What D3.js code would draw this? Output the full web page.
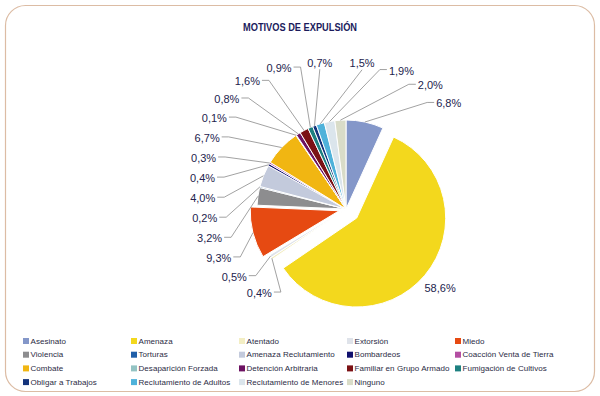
<!doctype html>
<html lang="es">
<head>
<meta charset="utf-8">
<script src="https://cdn.jsdelivr.net/npm/d3@7"></script>
<style>
body{margin:0;padding:0;background:#fff;}
svg{display:block;font-family:"Liberation Sans",Arial,sans-serif;}
</style>
</head>
<body>
<svg id="chartSvg"></svg>
<script>
// data
var categories = ["Asesinato","Amenaza","Atentado","Extorsión","Miedo","Violencia","Torturas",
	"Amenaza Reclutamiento","Bombardeos","Coacción Venta de Tierra","Combate","Desaparición Forzada",
	"Detención Arbitraria","Familiar en Grupo Armado","Fumigación de Cultivos","Obligar a Trabajos",
	"Reclutamiento de Adultos","Reclutamiento de Menores","Ninguno"];
var values = [6.8,58.6,0.4,0.5,9.3,3.2,0.2,4.0,0.4,0.3,6.7,0.1,0.8,1.6,0.9,0.7,1.5,1.9,2.0];
var colors = ["#8497c9","#f3d81d","#f3eec4","#dfe3ea","#e64a12","#8d8d8f","#1f5fa8",
	"#c3cadc","#10106e","#b34ea2","#f1b612","#93c3c3","#6c1262","#7b1114","#1d8080",
	"#14347c","#4fb2da","#dbe5ec","#d9dcc8"];
var title = "MOTIVOS DE EXPULSIÓN";

var width = 600, height = 396;
var cx = 346, cy = 209, radius = 89;
// label ring (rounded shape, a bit above and left of the pie centre)
var ringCx = 336, ringCy = 184, rx = 121, ry = 116, ringPow = 2.6;
var labelTurn = -0.1; // start labels slightly counter-clockwise of their slice

var svg = d3.select("#chartSvg").attr("width", width).attr("height", height);

// frame
svg.append("rect")
	.attr("x", 5.5).attr("y", 5.5)
	.attr("width", 589).attr("height", 386)
	.attr("rx", 20).attr("ry", 20)
	.attr("fill", "#fff")
	.attr("stroke", "#dcbca4")
	.attr("stroke-width", 1.2);

svg.append("text")
	.attr("x", 300).attr("y", 28)
	.attr("text-anchor", "middle")
	.attr("dominant-baseline", "middle")
	.attr("font-size", 10)
	.attr("font-weight", "bold")
	.attr("fill", "#1b1b5c")
	.attr("textLength", 114)
	.attr("lengthAdjust", "spacingAndGlyphs")
	.text(title);

var data = categories.map(function(c, i){ return {name:c, value:values[i], color:colors[i]}; });
var arcs = d3.pie().sort(null).value(function(d){ return d.value; })(data);
var arc = d3.arc().innerRadius(0).outerRadius(radius);

function fmt(v){ return v.toFixed(1).replace(".", ",") + "%"; }
function offset(d){
	var off = 0;
	if (d.data.name == "Amenaza") off = 14;
	if (d.data.name == "Miedo") off = 7;
	var m = (d.startAngle + d.endAngle) / 2;
	return [off * Math.sin(m), -off * Math.cos(m)];
}

// slices
svg.append("g").selectAll("path")
	.data(arcs)
	.enter().append("path")
	.attr("transform", function(d){ var o = offset(d); return "translate(" + (cx + o[0]) + "," + (cy + o[1]) + ")"; })
	.attr("d", arc)
	.attr("fill", function(d){ return d.data.color; })
	.attr("stroke", "#fff")
	.attr("stroke-width", 1);

// labels
var gLines = svg.append("g");
var gLab = svg.append("g");
var labs = [];
arcs.forEach(function(d){
	var m = (d.startAngle + d.endAngle) / 2;
	if (d.data.name == "Amenaza") {
		var o = offset(d);
		gLab.append("text")
			.attr("x", cx + o[0] + (radius + 20) * Math.sin(m))
			.attr("y", cy + o[1] - (radius + 20) * Math.cos(m))
			.attr("text-anchor", "middle")
			.attr("dominant-baseline", "central")
			.attr("font-size", 11)
			.attr("fill", "#23234d")
			.text(fmt(d.data.value));
		return;
	}
	var t = m > Math.PI ? m - 2 * Math.PI : m;
	labs.push({d:d, mid:m, t:t + labelTurn});
});
labs.sort(function(a, b){ return a.t - b.t; });
labs.forEach(function(l){
	l.node = gLab.append("text")
		.attr("text-anchor", "middle")
		.attr("dominant-baseline", "central")
		.attr("font-size", 11)
		.attr("fill", "#23234d")
		.text(fmt(l.d.data.value));
	l.w = l.node.node().getComputedTextLength();
	l.h = 11;
});

function place(l){
	var s = Math.sin(l.t), c = Math.cos(l.t);
	var k = 1 / Math.pow(Math.pow(Math.abs(s / rx), ringPow) + Math.pow(Math.abs(c / ry), ringPow), 1 / ringPow);
	var px = ringCx + k * s, py = ringCy - k * c;
	l.left = px + l.w / 2 * s - l.w / 2;
	l.top = py - l.h / 2 * c - l.h / 2;
}
function clash(a, b){
	var dx = (a.left + a.w / 2) - (b.left + b.w / 2);
	var dy = (a.top + a.h / 2) - (b.top + b.h / 2);
	var ex = (a.w + b.w) / 2 + padX, ey = (a.h + b.h) / 2 + padY;
	return (dx * dx) / (ex * ex) + (dy * dy) / (ey * ey) < 1;
}
var padX = 17, padY = 9, step = 0.002;
for (var it = 0; it < 5000; it++) {
	labs.forEach(place);
	var moved = false;
	for (var i = 0; i < labs.length - 1; i++) {
		if (clash(labs[i], labs[i + 1])) {
			labs[i].t -= step; labs[i + 1].t += step; moved = true;
		}
	}
	if (!moved) break;
}
labs.forEach(place);

labs.forEach(function(l){
	var bx = l.left + l.w / 2, by = l.top + l.h / 2;
	l.node.attr("x", bx).attr("y", by);
	var o = offset(l.d);
	var sx = cx + o[0] + radius * Math.sin(l.mid), sy = cy + o[1] - radius * Math.cos(l.mid);
	var s = Math.sin(l.t), pts;
	if (s < -0.3) {
		pts = [[l.left + l.w + 2, by - 1], [l.left + l.w + 9, by - 1], [sx, sy]];
	} else if (s > 0.3) {
		pts = [[l.left - 2, by - 1], [l.left - 9, by - 1], [sx, sy]];
	} else {
		pts = [[bx, l.top + l.h + 1], [sx, sy]];
	}
	gLines.append("polyline")
		.attr("points", pts.map(function(p){ return p.join(","); }).join(" "))
		.attr("fill", "none")
		.attr("stroke", "#8a8a8a")
		.attr("stroke-width", 0.8);
});

// legend
var legend = svg.append("g");
data.forEach(function(d, i){
	var x = 23 + (i % 5) * 108, y = 341 + Math.floor(i / 5) * 13.7;
	legend.append("rect")
		.attr("x", x).attr("y", y - 3)
		.attr("width", 6).attr("height", 6)
		.attr("fill", d.color);
	legend.append("text")
		.attr("x", x + 7.5).attr("y", y)
		.attr("dominant-baseline", "central")
		.attr("font-size", 8)
		.attr("letter-spacing", 0.05)
		.attr("fill", "#2b2b44")
		.text(d.name);
});
</script>
</body>
</html>
